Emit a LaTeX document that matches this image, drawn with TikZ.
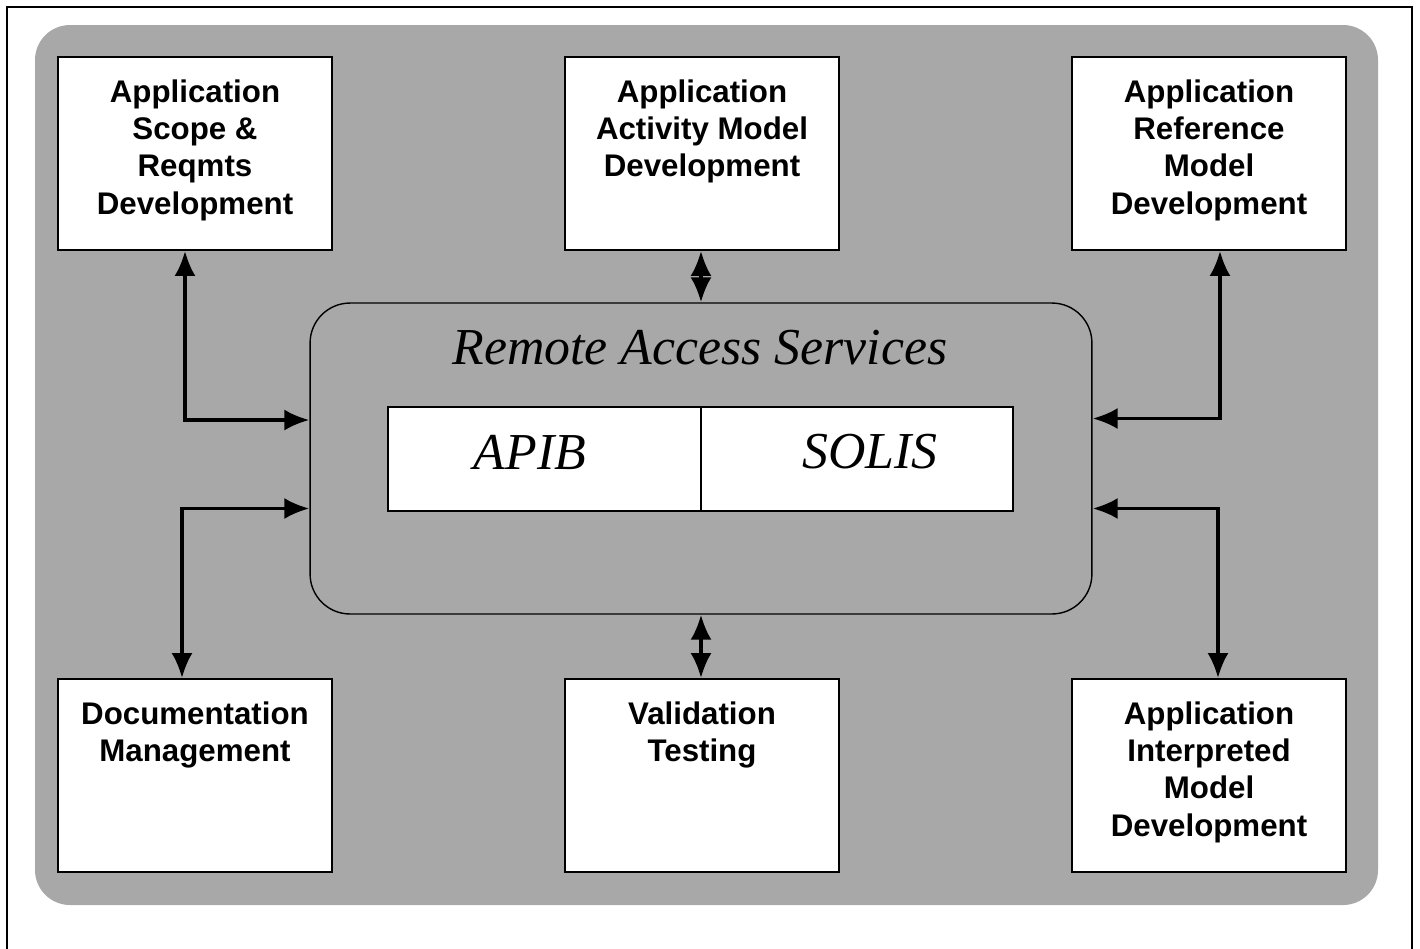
\documentclass[tikz,border=0pt]{standalone}
\usepackage{fontspec}
\setmainfont{Liberation Serif}
\setsansfont{Liberation Sans}
\usepackage{tikz}
\usetikzlibrary{shapes,arrows,arrows.meta,positioning}

\begin{document}
\begin{tikzpicture}[x=0.02cm, y=-0.02cm,
	block/.style = {rectangle, draw, line width=1.1pt, fill=white, minimum width=5.48cm, minimum height=3.86cm, inner sep=0pt},
	blocktext/.style = {anchor=north, align=center, inner sep=0pt, font=\sffamily\bfseries\fontsize{17.8}{21.3}\selectfont},
	service/.style = {rectangle, draw, line width=0.8pt, rounded corners=0.8cm, minimum width=15.64cm, minimum height=6.22cm},
	serviceitem/.style = {rectangle, draw, line width=1.1pt, fill=white, minimum width=6.26cm, minimum height=2.08cm, inner sep=0pt, font=\itshape\fontsize{29.5}{34}\selectfont},
	link/.style = {draw, line width=2pt, {Latex[length=0.5cm,width=0.42cm]}-{Latex[length=0.5cm,width=0.42cm]}}]
	\useasboundingbox (0,0) rectangle (1420,948);
	\draw[line width=0.6pt] (7,955) -- (7,7) -- (1412,7) -- (1412,955);
	\fill[black!34, rounded corners=0.7cm] (35,25) rectangle (1378,905);

	\node[block] (scope) at (195,153.5) {};
	\node[block] (activity) at (702,153.5) {};
	\node[block] (reference) at (1209,153.5) {};
	\node[block] (docs) at (195,775.5) {};
	\node[block] (valid) at (702,775.5) {};
	\node[block] (interp) at (1209,775.5) {};

	\node[blocktext] (scopetext) at ([yshift=-0.46cm]scope.north) {Application\\Scope \&\\Reqmts\\Development};
	\node[blocktext] (activitytext) at ([yshift=-0.46cm]activity.north) {Application\\Activity Model\\Development};
	\node[blocktext] (referencetext) at ([yshift=-0.46cm]reference.north) {Application\\Reference\\Model\\Development};
	\node[blocktext] (docstext) at ([yshift=-0.46cm]docs.north) {Documentation\\Management};
	\node[blocktext] (validtext) at ([yshift=-0.46cm]valid.north) {Validation\\Testing};
	\node[blocktext] (interptext) at ([yshift=-0.46cm]interp.north) {Application\\Interpreted\\Model\\Development};

	\node[service] (ras) at (701,458.5) {};
	\node[font=\itshape\fontsize{29.5}{34}\selectfont] (rastitle) at (700,348) {Remote Access Services};
	\node[serviceitem, minimum width=6.26cm] (apib) at (544.5,459) {};
	\node[serviceitem, minimum width=6.24cm] (solis) at (857,459) {};
	\node[font=\itshape\fontsize{29.5}{34}\selectfont] (apibtext) at (530,452) {APIB};
	\node[font=\itshape\fontsize{29.5}{34}\selectfont] (solistext) at (870,452) {SOLIS};

	\path[link] ([xshift=-0.2cm]scope.south) |- ([yshift=0.77cm]ras.west);
	\path[link] ([xshift=-0.26cm]docs.north) |- ([yshift=-1.0cm]ras.west);
	\path[link] (activity.south -| ras.north) -- (ras.north);
	\path[link] (ras.south) -- (valid.north -| ras.south);
	\path[link] ([xshift=0.22cm]reference.south) |- ([yshift=0.8cm]ras.east);
	\path[link] ([xshift=0.18cm]interp.north) |- ([yshift=-1.0cm]ras.east);
\end{tikzpicture}
\end{document}
